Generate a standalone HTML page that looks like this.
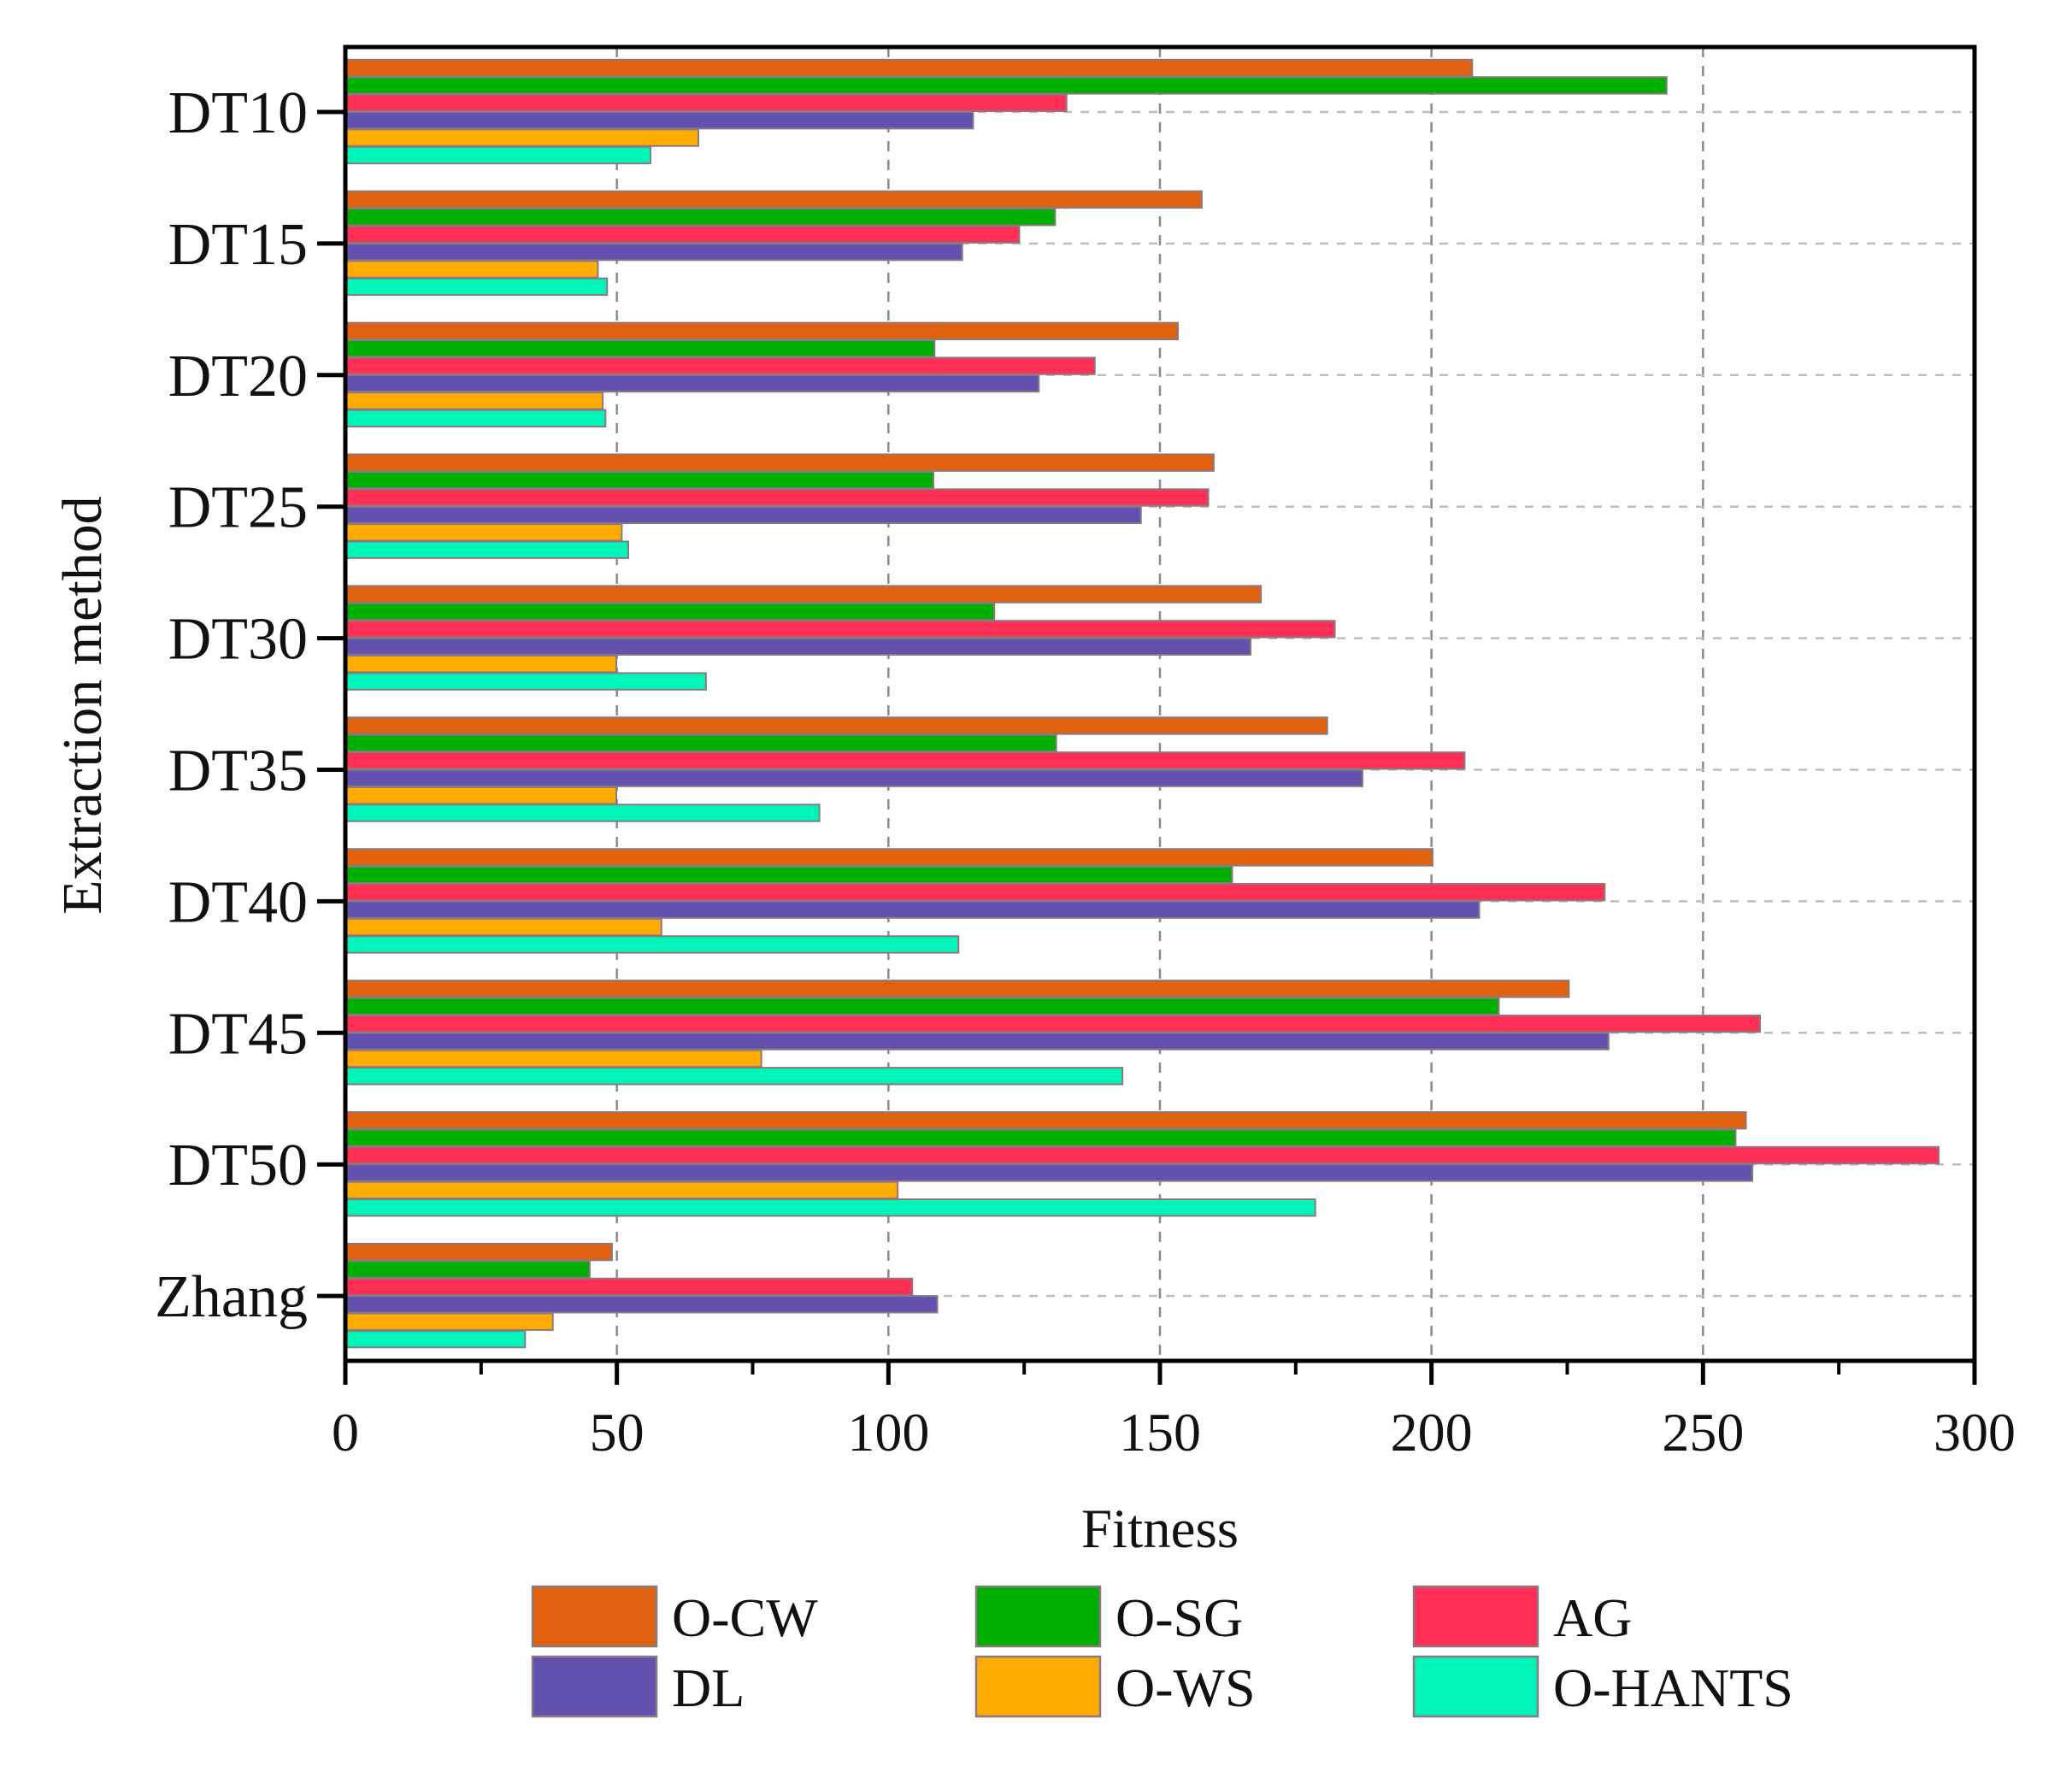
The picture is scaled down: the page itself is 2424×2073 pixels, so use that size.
<!DOCTYPE html>
<html><head><meta charset="utf-8"><style>
html,body{margin:0;padding:0;background:#fff;}
svg{display:block;font-family:"Liberation Serif",serif;}
</style></head><body>
<svg id="chart" width="2424" height="2073" viewBox="0 0 2424 2073" xmlns="http://www.w3.org/2000/svg">
<rect x="0" y="0" width="2424" height="2073" fill="#fff"/>
<g id="grid"></g>
<g id="bars"></g>
<g id="axes"></g>
<text x="1357" y="1810" font-size="65" text-anchor="middle" fill="#111">Fitness</text>
<text x="0" y="0" font-size="66" text-anchor="middle" fill="#111" transform="translate(118,825) rotate(-90)">Extraction method</text>
<g id="legend"></g>
</svg>
<script>
const categories = ["DT10","DT15","DT20","DT25","DT30","DT35","DT40","DT45","DT50","Zhang"];
const seriesNames = ["O-CW","O-SG","AG","DL","O-WS","O-HANTS"];
const ocw   = [207.5,157.7,153.3,159.9,168.6,180.8,200.2,225.3,257.9,49.1];
const osg   = [243.3,130.7,108.5,108.3,119.5,130.9,163.3,212.4,256.0,45.0];
const ag    = [132.8,124.1,138.0,158.9,182.2,206.1,231.9,260.5,293.4,104.4];
const dl    = [115.6,113.6,127.7,146.5,166.7,187.3,208.8,232.6,259.1,109.0];
const ows   = [65.0,46.5,47.4,50.9,49.9,49.9,58.2,76.6,101.7,38.2];
const ohants= [56.2,48.2,47.9,52.1,66.4,87.3,112.9,143.1,178.6,33.1];
const xTicks = [0,50,100,150,200,250,300];
const xMinorTicks = [25,75,125,175,225,275];

const series = [ocw,osg,ag,dl,ows,ohants];
const colors = ["#e0620f","#00b000","#ff2e55","#6351b0","#ffab00","#00f5b8"];
const NS = "http://www.w3.org/2000/svg";
const L=404, R=2310, T=55, B=1592, X0=0, X1=300;
const firstC=131, stepC=153.9, barH=20.4;
function sx(v){return L+(v-X0)/(X1-X0)*(R-L);}
function sy(i){return firstC+i*stepC;}
function mk(tag,attrs,parent){const e=document.createElementNS(NS,tag);for(const k in attrs)e.setAttribute(k,attrs[k]);parent.appendChild(e);return e;}
const grid=document.getElementById('grid'),bars=document.getElementById('bars'),axes=document.getElementById('axes'),legend=document.getElementById('legend');

xTicks.forEach(t=>{ if(t>X0&&t<X1){
  const l=mk('line',{x1:sx(t),x2:sx(t),y1:T,y2:B,stroke:'#8a8a8a','stroke-width':2.5,'stroke-dasharray':'12 10'},grid);
  
  
}});
categories.forEach((c,i)=>{
  const l=mk('line',{x1:L,x2:R,y1:sy(i),y2:sy(i),stroke:'#bdbdbd','stroke-width':2.5,'stroke-dasharray':'10 10'},grid);
  
  
});

categories.forEach((c,i)=>{
  const top=sy(i)-3*barH;
  series.forEach((s,j)=>{
    const r=mk('rect',{x:L,y:top+j*barH,width:sx(s[i])-L,height:barH-1,fill:colors[j],stroke:'#8a7a80','stroke-width':2},bars);
    
    
  });
});

const frame=mk('rect',{x:L,y:T,width:R-L,height:B-T,fill:'none',stroke:'#000','stroke-width':5},axes);


xTicks.forEach(t=>{
  const tk=mk('line',{x1:sx(t),x2:sx(t),y1:B,y2:B+28,stroke:'#000','stroke-width':5},axes);
  
  
  const tx=mk('text',{x:sx(t),y:1697,'font-size':64,'text-anchor':'middle',fill:'#111'},axes);
  tx.textContent=t;
  
  
});
xMinorTicks.forEach(t=>{
  const tk=mk('line',{x1:sx(t),x2:sx(t),y1:B,y2:B+16,stroke:'#000','stroke-width':4},axes);
  
  
});
categories.forEach((c,i)=>{
  const tk=mk('line',{x1:L-33,x2:L,y1:sy(i),y2:sy(i),stroke:'#000','stroke-width':5},axes);
  
  
  const tx=mk('text',{x:360,y:sy(i)+24,'font-size':70,'text-anchor':'end',fill:'#111'},axes);
  tx.textContent=c;
  
  
});

const colX=[623,1142,1654], rowY=[1856,1938];
seriesNames.forEach((n,j)=>{
  const cx=colX[j%3], cy=rowY[Math.floor(j/3)];
  const g=mk('g',{},legend);
  
  
  mk('rect',{x:cx,y:cy,width:145,height:70,fill:colors[j],stroke:'#8a7a80','stroke-width':2.5},g);
  const t=mk('text',{x:cx+163,y:cy+58,'font-size':64,fill:'#111'},g);
  t.textContent=n;
});
</script>
</body></html>
